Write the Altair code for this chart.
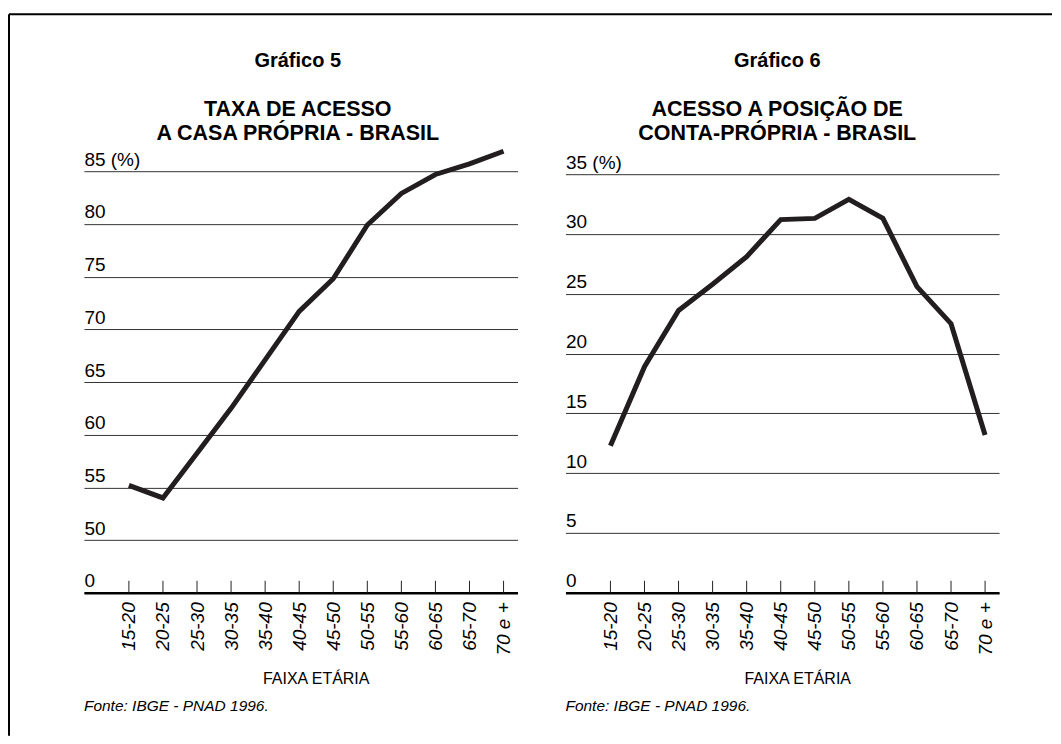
import altair as alt
import pandas as pd

# ---- data ----
faixas = ["15-20", "20-25", "25-30", "30-35", "35-40", "40-45",
          "45-50", "50-55", "55-60", "60-65", "65-70", "70 e +"]
casa_propria = [55.2, 54.0, 58.25, 62.5, 67.1, 71.7, 74.8, 79.9, 82.9, 84.7, 85.7, 86.9]
conta_propria = [12.3, 18.9, 23.6, 25.8, 28.1, 31.2, 31.3, 32.9, 31.3, 25.6, 22.5, 13.2]

casa_ticks = [45, 50, 55, 60, 65, 70, 75, 80, 85]
conta_ticks = [0, 5, 10, 15, 20, 25, 30, 35]

grafico_labels = ["Gráfico 5", "Gráfico 6"]
titulos = ["TAXA DE ACESSO\nA CASA PRÓPRIA - BRASIL",
           "ACESSO A POSIÇÃO DE\nCONTA-PRÓPRIA - BRASIL"]
x_title = "FAIXA ETÁRIA"
fonte = "Fonte: IBGE - PNAD 1996."

W, H = 434, 443
FONT = "Liberation Sans"
INK = "#221e1f"


def text_layer(s, x, y, size, weight="normal", style="normal", align="center", **kw):
    return alt.Chart(pd.DataFrame({"t": [s]})).mark_text(
        font=FONT, fontSize=size, fontWeight=weight, fontStyle=style,
        align=align, baseline="alphabetic", color="black", **kw
    ).encode(text="t:N", x=alt.value(x), y=alt.value(y))


def panel(values, ydomain, yticks, label_expr, idx, frame=False):
    df = pd.DataFrame({"faixa": faixas, "v": values})
    xscale = alt.Scale(type="point", padding=0.865, align=0.763)
    x_enc = alt.X(
        "faixa:N", sort=faixas, scale=xscale,
        axis=alt.Axis(
            title=x_title, titleFont=FONT, titleFontSize=16, titleFontWeight="normal",
            titleColor="black", titleX=232, titleY=91, titleAlign="center",
            titleBaseline="alphabetic", titleAngle=0,
            labelAngle=270, labelAlign="right", labelBaseline="middle",
            labelFont="Liberation Sans Narrow, Liberation Sans, sans-serif",
            labelFontStyle="italic", labelFontSize=19, labelColor="black",
            labelPadding=9, ticks=False, domain=True, domainColor="black",
            domainWidth=2.5, grid=False,
        ),
    )
    y_enc = alt.Y(
        "v:Q",
        scale=alt.Scale(domain=ydomain, nice=False, zero=False),
        axis=alt.Axis(
            values=yticks, labelExpr=label_expr, title=None,
            labelAlign="left", labelBaseline="alphabetic", labelOffset=-6,
            labelPadding=0, ticks=False, tickSize=0, domain=False,
            labelFont=FONT, labelFontSize=19, labelColor="black",
            grid=True, gridColor="#333333", gridWidth=1,
        ),
    )
    line = alt.Chart(df).mark_line(color=INK, strokeWidth=5, strokeJoin="miter").encode(
        x=x_enc, y=y_enc
    )
    ticks = alt.Chart(df).mark_rule(color="#222222", strokeWidth=1).encode(
        x=alt.X("faixa:N", sort=faixas, scale=xscale),
        y=alt.value(H - 12), y2=alt.value(H),
    )
    cx = 214 if idx == 0 else 212
    layers = [
        ticks, line,
        text_layer(grafico_labels[idx], cx, -83.3, 20, weight="bold"),
        text_layer(titulos[idx], cx, -34, 21.5, weight="bold",
                   lineBreak="\n", lineHeight=24),
        text_layer(fonte, 0, 561.7, 15.5, style="italic", align="left"),
    ]
    if frame:
        top_rule = alt.Chart(pd.DataFrame({"a": [0]})).mark_rule(
            color="black", strokeWidth=2
        ).encode(x=alt.value(-75), x2=alt.value(969), y=alt.value(-136))
        left_rule = alt.Chart(pd.DataFrame({"a": [0]})).mark_rule(
            color="black", strokeWidth=2
        ).encode(x=alt.value(-75), y=alt.value(-136), y2=alt.value(586))
        layers += [top_rule, left_rule]
    return alt.layer(*layers).properties(width=W, height=H)


left = panel(casa_propria, [45, 87], casa_ticks,
             "datum.value == 85 ? '85 (%)' : datum.value == 45 ? '0' : datum.label", 0, frame=True)
right = panel(conta_propria, [0, 37], conta_ticks,
              "datum.value == 35 ? '35 (%)' : datum.label", 1)

chart = alt.hconcat(left, right, spacing=48, bounds="flush").properties(
    padding={"left": 0, "top": 5, "right": 0, "bottom": 0},
    background="white",
).configure_view(stroke=None)

chart.save("out.html", embed_options={"renderer": "svg", "actions": False})
